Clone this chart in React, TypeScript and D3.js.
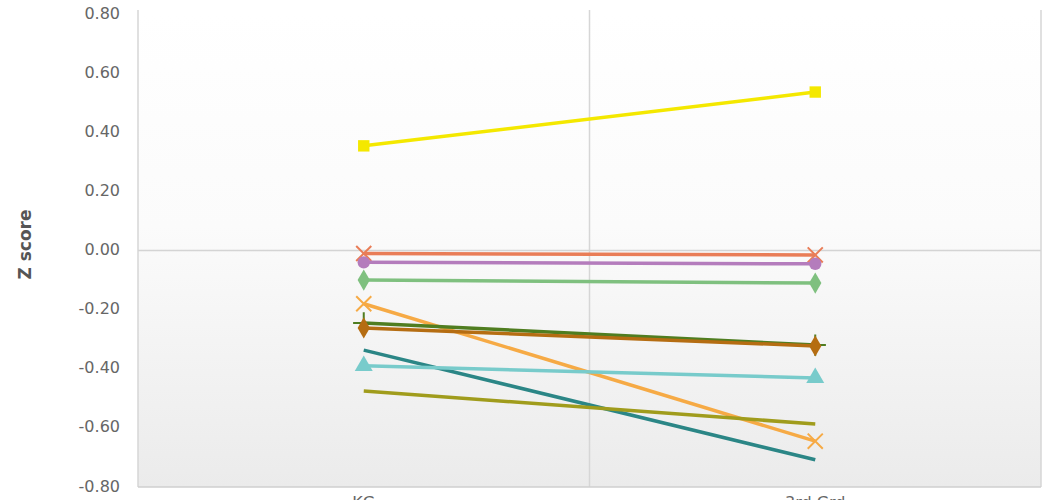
import * as d3 from 'd3'

const categories = ['KG', '3rd Grd']
const seriesNames = ['s1', 's2', 's3', 's4', 's5', 's6', 's7', 's8', 's9', 's10']
const kgValues = [0.354, -0.01, -0.04, -0.1, -0.18, -0.245, -0.262, -0.337, -0.39, -0.475]
const grd3Values = [0.536, -0.015, -0.045, -0.11, -0.645, -0.32, -0.323, -0.708, -0.431, -0.587]
const colors = ['#f4e800', '#e97d57', '#b47cbc', '#7fc07f', '#f6aa45', '#4f7d20', '#b56d12', '#2b8686', '#78cbcb', '#a09c1c']
const markers = ['square', 'times', 'circle', 'diamond', 'times', 'plus', 'diamond', 'none', 'triangle', 'none']
const yTicks = [-0.8, -0.6, -0.4, -0.2, 0, 0.2, 0.4, 0.6, 0.8]

const W = 1045
const H = 500
const left = 138
const right = 1041
const top = 14
const bottom = 487

const symbolFor: Record<string, d3.SymbolType> = {
  square: d3.symbolSquare,
  circle: d3.symbolCircle,
  diamond: d3.symbolDiamond,
  triangle: d3.symbolTriangle,
  times: d3.symbolTimes,
  plus: d3.symbolPlus,
}

export default function App() {
  const x = d3.scalePoint<string>().domain(categories).range([left, right]).padding(0.5)
  const y = d3.scaleLinear().domain([-0.8, 0.8]).range([bottom, top])
  // the chart prints a plain hyphen, not d3's unicode minus
  const fmt = (v: number) => d3.format('.2f')(v).replace('\u2212', '-')
  const line = d3.line<[string, number]>().x(d => x(d[0])!).y(d => y(d[1]))

  const series = seriesNames.map((name, i) => ({
    name,
    color: colors[i],
    marker: markers[i],
    points: [[categories[0], kgValues[i]], [categories[1], grd3Values[i]]] as [string, number][],
  }))

  return (
    <svg width={W} height={H} style={{ position: 'absolute', left: 0, top: 0, display: 'block' }}
      fontFamily="'DejaVu Sans', sans-serif">
      <defs>
        <linearGradient id="bg" x1="0" y1="0" x2="0" y2="1">
          <stop offset="0" stopColor="#ffffff" />
          <stop offset="0.45" stopColor="#fbfbfb" />
          <stop offset="1" stopColor="#ebebeb" />
        </linearGradient>
      </defs>
      <rect width={W} height={H} fill="#fff" />
      <rect x={left} y={top} width={right - left} height={bottom - top} fill="url(#bg)" />

      <text x={(left + right) / 2} y={0} textAnchor="middle" fontSize={20} fontWeight="bold" fill="#aaa">
        Z Score Trend
      </text>

      {[left, (left + right) / 2, right].map((gx, i) => (
        <line key={i} x1={gx} x2={gx} y1={top - 4} y2={bottom} stroke="#d6d6d6" strokeWidth={1.5} />
      ))}
      <line x1={left} x2={right} y1={y(0)} y2={y(0)} stroke="#d4d4d4" strokeWidth={1.5} />
      <line x1={left} x2={right} y1={bottom} y2={bottom} stroke="#cfcfcf" strokeWidth={1.5} />

      {yTicks.map(t => (
        <text key={t} x={120} y={y(t)} textAnchor="end" dominantBaseline="middle" fontSize={16} fill="#666">
          {fmt(t)}
        </text>
      ))}

      <text transform={`translate(26,${y(0) - 6}) rotate(-90)`} textAnchor="middle" dominantBaseline="middle"
        fontSize={17} fontWeight="bold" fill="#555">
        Z score
      </text>

      {categories.map(c => (
        <text key={c} x={x(c)} y={508} textAnchor="middle" fontSize={16} fill="#666">{c}</text>
      ))}

      {series.map(s => (
        <g key={s.name}>
          <path d={line(s.points)!} fill="none" stroke={s.color} strokeWidth={3.5} />
          {s.marker !== 'none' && s.points.map((p, j) => {
            const stroked = s.marker === 'times' || s.marker === 'plus'
            const size = stroked ? 150 : s.marker === 'triangle' ? 140 : s.marker === 'circle' ? 120 : 130
            const sym = d3.symbol(symbolFor[s.marker], size)()!
            return (
              <path key={j} d={sym} transform={`translate(${x(p[0])},${y(p[1])})`}
                fill={stroked ? 'none' : s.color} stroke={s.color} strokeWidth={stroked ? 2 : 0} />
            )
          })}
        </g>
      ))}
    </svg>
  )
}
